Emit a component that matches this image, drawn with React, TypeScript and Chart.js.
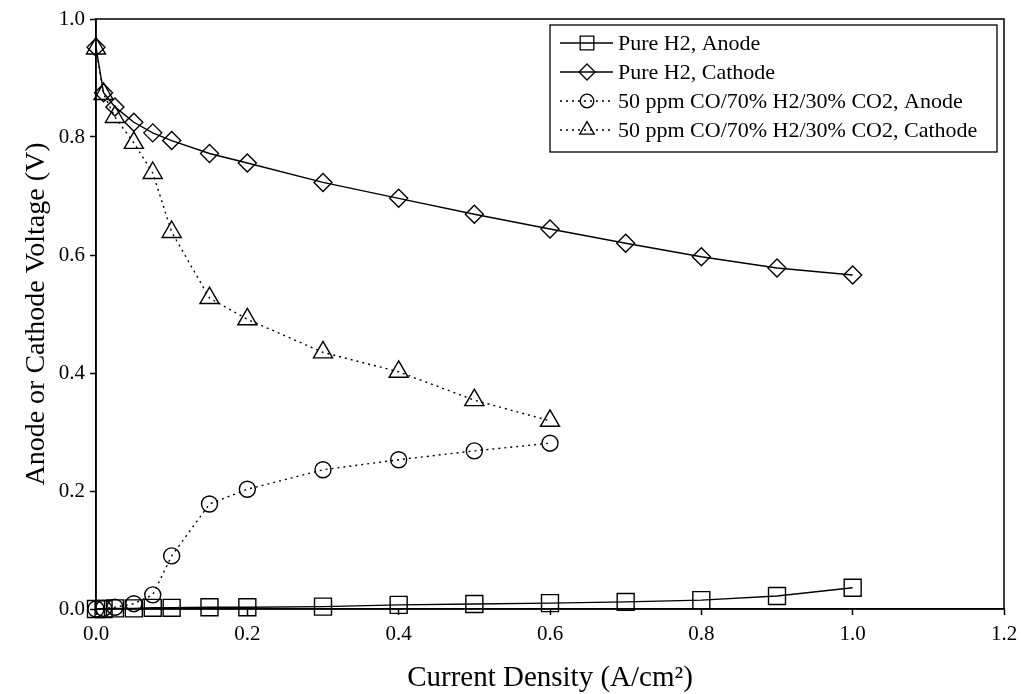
import React, { useEffect, useRef } from "react";
import { Chart, registerables } from "chart.js";

Chart.register(...registerables);

const currentPure = [0, 0.01, 0.025, 0.05, 0.075, 0.1, 0.15, 0.2, 0.3, 0.4, 0.5, 0.6, 0.7, 0.8, 0.9, 1.0];
const pureAnode = [0, 0, 0.001, 0.001, 0.002, 0.002, 0.003, 0.003, 0.004, 0.007, 0.0085, 0.01, 0.012, 0.015, 0.022, 0.036];
const pureCathode = [0.952, 0.875, 0.851, 0.825, 0.807, 0.794, 0.772, 0.756, 0.723, 0.696, 0.669, 0.644, 0.62, 0.597, 0.578, 0.566];

const currentCO = [0, 0.01, 0.025, 0.05, 0.075, 0.1, 0.15, 0.2, 0.3, 0.4, 0.5, 0.6];
const coAnode = [0, 0.001, 0.003, 0.009, 0.024, 0.09, 0.178, 0.203, 0.236, 0.253, 0.268, 0.281];
const coCathode = [0.95, 0.873, 0.834, 0.79, 0.739, 0.639, 0.527, 0.491, 0.435, 0.402, 0.354, 0.319];

const seriesLabels = [
  "Pure H2, Anode",
  "Pure H2, Cathode",
  "50 ppm CO/70% H2/30% CO2, Anode",
  "50 ppm CO/70% H2/30% CO2, Cathode",
];
const markerStyles = ["rect", "rectRot", "circle", "triangle"];
const xTitle = "Current Density (A/cm²)";
const yTitle = "Anode or Cathode Voltage (V)";

const FONT = "'Liberation Serif', 'Times New Roman', serif";

function toPoints(xs: number[], ys: number[]) {
  return xs.map((x, i) => ({ x, y: ys[i] }));
}

function drawMarker(ctx: CanvasRenderingContext2D, style: string, size: number, x: number, y: number) {
  ctx.beginPath();
  if (style === "rect") {
    const h = size * 0.85;
    ctx.rect(x - h, y - h, 2 * h, 2 * h);
  } else if (style === "rectRot") {
    ctx.moveTo(x, y - size);
    ctx.lineTo(x + size, y);
    ctx.lineTo(x, y + size);
    ctx.lineTo(x - size, y);
    ctx.closePath();
  } else if (style === "circle") {
    ctx.arc(x, y, size * 0.85, 0, Math.PI * 2);
  } else {
    const s = size * 1.05;
    ctx.moveTo(x, y - s);
    ctx.lineTo(x + s * 0.87, y + s * 0.5);
    ctx.lineTo(x - s * 0.87, y + s * 0.5);
    ctx.closePath();
  }
  ctx.stroke();
}

const framePlugin = {
  id: "frame",
  afterDatasetsDraw(chart: any) {
    const { ctx, chartArea } = chart;
    ctx.save();
    ctx.strokeStyle = "#000";
    ctx.lineWidth = 1.5;
    ctx.strokeRect(chartArea.left, chartArea.top, chartArea.right - chartArea.left, chartArea.bottom - chartArea.top);
    ctx.restore();
  },
};

const legendPlugin = {
  id: "customLegend",
  afterDraw(chart: any) {
    const { ctx } = chart;
    const left = 550, top = 25, right = 997, bottom = 152;
    ctx.save();
    ctx.fillStyle = "#fff";
    ctx.fillRect(left, top, right - left, bottom - top);
    ctx.strokeStyle = "#000";
    ctx.lineWidth = 1.3;
    ctx.strokeRect(left, top, right - left, bottom - top);
    chart.data.datasets.forEach((ds: any, i: number) => {
      const y = 43 + i * 29;
      ctx.strokeStyle = "#000";
      ctx.lineWidth = 1.3;
      ctx.setLineDash(ds.borderDash || []);
      ctx.beginPath();
      ctx.moveTo(560, y);
      ctx.lineTo(613, y);
      ctx.stroke();
      ctx.setLineDash([]);
      drawMarker(ctx, ds.pointStyle, 8, 587, y);
      ctx.fillStyle = "#000";
      ctx.font = `22px ${FONT}`;
      ctx.textBaseline = "middle";
      ctx.textAlign = "left";
      ctx.fillText(ds.label, 618, y + 1);
    });
    ctx.restore();
  },
};

export default function App() {
  const ref = useRef<HTMLCanvasElement>(null);
  useEffect(() => {
    document.body.style.margin = "0";
    const common = {
      borderColor: "#000",
      backgroundColor: "#fff",
      pointBackgroundColor: "rgba(255,255,255,0)",
      pointBorderColor: "#000",
      pointBorderWidth: 1.4,
      borderWidth: 1.4,
      tension: 0,
      clip: false as any,
    };
    const chart = new Chart(ref.current!, {
      type: "line",
      data: {
        datasets: [
          { ...common, label: seriesLabels[0], data: toPoints(currentPure, pureAnode), pointStyle: markerStyles[0] as any, pointRadius: 12 },
          { ...common, label: seriesLabels[1], data: toPoints(currentPure, pureCathode), pointStyle: markerStyles[1] as any, pointRadius: 9 },
          { ...common, label: seriesLabels[2], data: toPoints(currentCO, coAnode), pointStyle: markerStyles[2] as any, pointRadius: 8, borderDash: [2, 4] },
          { ...common, label: seriesLabels[3], data: toPoints(currentCO, coCathode), pointStyle: markerStyles[3] as any, pointRadius: 11, borderDash: [2, 4] },
        ],
      },
      options: {
        animation: false,
        responsive: false,
        layout: { padding: { top: 19, right: 17, left: 0, bottom: 0 } },
        plugins: { legend: { display: false }, tooltip: { enabled: false } },
        scales: {
          x: {
            type: "linear",
            min: 0,
            max: 1.2,
            afterFit: (s: any) => { s.height = 85; s.paddingLeft = 0; s.paddingRight = 0; },
            border: { display: true, color: "#000", width: 1.5 },
            grid: { drawOnChartArea: false, drawTicks: true, tickLength: 6, color: "#000", tickWidth: 1.5 },
            ticks: { stepSize: 0.2, color: "#000", font: { family: FONT, size: 21 }, padding: 7, callback: (v: any) => Number(v).toFixed(1) },
            title: { display: true, text: xTitle, color: "#000", font: { family: FONT, size: 29 }, padding: { top: 0, bottom: -2 } },
          },
          y: {
            type: "linear",
            min: 0,
            max: 1,
            afterFit: (s: any) => { s.width = 96; s.paddingTop = 0; s.paddingBottom = 0; },
            border: { display: true, color: "#000", width: 1.5 },
            grid: { drawOnChartArea: false, drawTicks: true, tickLength: 6, color: "#000", tickWidth: 1.5 },
            ticks: { stepSize: 0.2, color: "#000", font: { family: FONT, size: 21 }, padding: 5, callback: (v: any) => Number(v).toFixed(1) },
            title: { display: true, text: yTitle, color: "#000", font: { family: FONT, size: 28 }, padding: { top: 20, bottom: 0 } },
          },
        },
      },
      plugins: [framePlugin, legendPlugin],
    });
    return () => chart.destroy();
  }, []);
  return (
    <div style={{ width: 1021, height: 694, background: "#fff" }}>
      <canvas ref={ref} width={1021} height={694} />
    </div>
  );
}
